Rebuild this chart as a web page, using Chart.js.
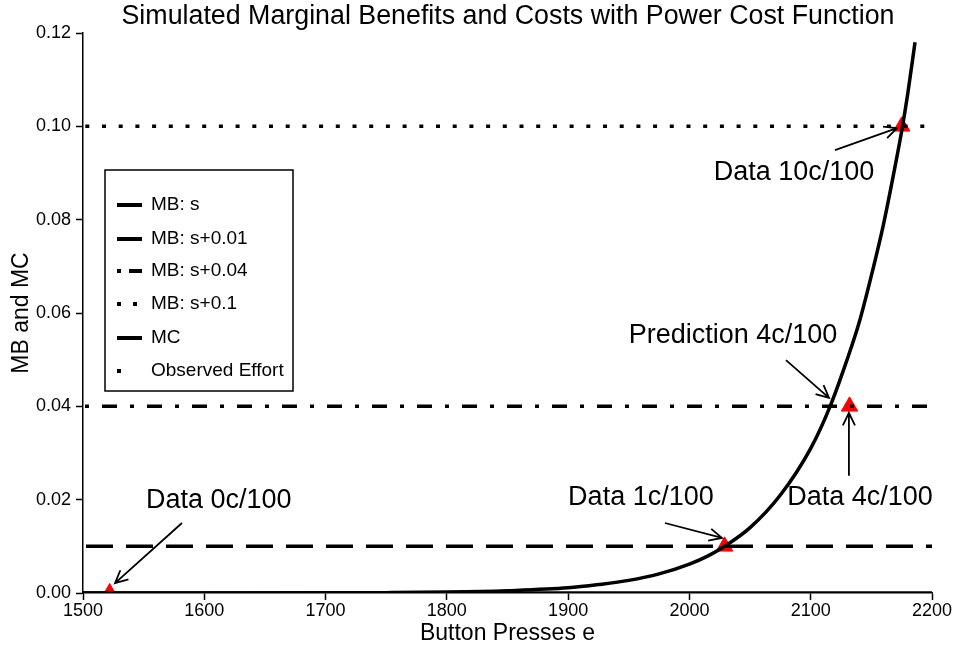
<!DOCTYPE html>
<html>
<head>
<meta charset="utf-8">
<script src="https://cdn.jsdelivr.net/npm/chart.js@4/dist/chart.umd.min.js"></script>
<style>
  html, body { margin: 0; padding: 0; background: #fff; }
  #wrap { width: 957px; height: 649px; position: relative; }
</style>
</head>
<body>
<div id="wrap"><canvas id="mbmc"></canvas></div>
<script>
// Button presses and marginal cost
const presses = [1500, 1600, 1700, 1750, 1800, 1850, 1900, 1925, 1950, 1975, 2000, 2015, 2029,
                 2050, 2075, 2100, 2116, 2130, 2140, 2150, 2160, 2170, 2175, 2180, 2186];
const marginalCost = [0, 0.0000, 0.00003, 0.00008, 0.0002, 0.0005, 0.0011, 0.0018, 0.0027, 0.0041,
                      0.0062, 0.0079, 0.0100, 0.0140, 0.0210, 0.0310, 0.0400, 0.0500, 0.0580,
                      0.0680, 0.0790, 0.0920, 0.0990, 0.1070, 0.1180];

// Marginal benefit levels (horizontal lines)
const benefitRange = [1500, 2200];
const benefitLevels = [0, 0.01, 0.04, 0.10];

// Observed effort per treatment
const observedEffort = [1522, 2029, 2132, 2175];
const observedBenefit = [0, 0.01, 0.04, 0.10];

const xTicks = [1500, 1600, 1700, 1800, 1900, 2000, 2100, 2200];
const yTicks = [0, 0.02, 0.04, 0.06, 0.08, 0.10, 0.12];

// Annotation labels and arrows (data units)
const notes = [
  { text: 'Data 0c/100',       x: 1612, y: 0.0199, from: [1581.6, 0.0150], to: [1526.4, 0.0021] },
  { text: 'Data 1c/100',       x: 1960, y: 0.0204, from: [1979.8, 0.0150], to: [2026.8, 0.0118] },
  { text: 'Data 4c/100',       x: 2140.6, y: 0.0204, from: [2131.5, 0.0251], to: [2131.5, 0.0386] },
  { text: 'Prediction 4c/100', x: 2035.9, y: 0.0551, from: [2079.6, 0.0499], to: [2115.1, 0.0418] },
  { text: 'Data 10c/100',      x: 2086.2, y: 0.0900, from: [2120.0, 0.0949], to: [2171.1, 0.0996] }
];

const FONT = '"Liberation Sans", Arial, Helvetica, sans-serif';

function hline(level) {
  return benefitRange.map(x => ({ x: x, y: level }));
}

const datasets = [
  { label: 'MB: s', data: hline(benefitLevels[0]), borderColor: '#000', borderWidth: 3.5, borderDash: [] },
  { label: 'MB: s+0.01', data: hline(benefitLevels[1]), borderColor: '#000', borderWidth: 3.5, borderDash: [27, 13], borderDashOffset: -3 },
  { label: 'MB: s+0.04', data: hline(benefitLevels[2]), borderColor: '#000', borderWidth: 3.5, borderDash: [15, 13, 4, 13], borderDashOffset: -19 },
  { label: 'MB: s+0.1', data: hline(benefitLevels[3]), borderColor: '#000', borderWidth: 3.5, borderDash: [4, 12.7], borderDashOffset: -19 },
  { label: 'MC', data: presses.map((e, i) => ({ x: e, y: marginalCost[i] })), borderColor: '#000', borderWidth: 3.5, cubicInterpolationMode: 'monotone' },
  { label: 'Observed Effort', data: observedEffort.map((e, i) => ({ x: e, y: observedBenefit[i] })),
    showLine: false, pointStyle: 'triangle', pointRadius: 9.5, backgroundColor: '#ff0000', borderColor: '#ff0000', borderWidth: 1 }
];
datasets.forEach(d => {
  if (d.showLine === undefined) { d.showLine = true; d.pointRadius = 0; d.borderCapStyle = 'butt'; }
});

function arrow(ctx, x1, y1, x2, y2) {
  const ang = Math.atan2(y2 - y1, x2 - x1);
  const len = 14, spread = Math.PI / 7;
  ctx.beginPath();
  ctx.moveTo(x1, y1);
  ctx.lineTo(x2, y2);
  ctx.moveTo(x2 - len * Math.cos(ang - spread), y2 - len * Math.sin(ang - spread));
  ctx.lineTo(x2, y2);
  ctx.lineTo(x2 - len * Math.cos(ang + spread), y2 - len * Math.sin(ang + spread));
  ctx.stroke();
}

const decorations = {
  id: 'decorations',
  afterDatasetsDraw(chart) {
    const ctx = chart.ctx, xs = chart.scales.x, ys = chart.scales.y;
    ctx.save();
    // title
    ctx.fillStyle = '#000';
    ctx.font = '26.8px ' + FONT;
    ctx.textAlign = 'center';
    ctx.textBaseline = 'middle';
    ctx.fillText('Simulated Marginal Benefits and Costs with Power Cost Function', 508, 17);

    // annotations
    ctx.font = '27px ' + FONT;
    ctx.strokeStyle = '#000';
    ctx.lineWidth = 1.8;
    notes.forEach(n => {
      ctx.fillText(n.text, xs.getPixelForValue(n.x), ys.getPixelForValue(n.y));
      arrow(ctx, xs.getPixelForValue(n.from[0]), ys.getPixelForValue(n.from[1]),
                 xs.getPixelForValue(n.to[0]), ys.getPixelForValue(n.to[1]));
    });

    // legend box
    const bx = 105, by = 170, bw = 188, bh = 221;
    ctx.fillStyle = '#fff';
    ctx.fillRect(bx, by, bw, bh);
    ctx.lineWidth = 1.5;
    ctx.strokeRect(bx, by, bw, bh);
    ctx.fillStyle = '#000';
    ctx.font = '19px ' + FONT;
    ctx.textAlign = 'left';
    const rows = [205, 239, 271, 304, 338, 371];
    const samples = [[[0, 25]], [[0, 25]], [[0, 4], [12, 25]], [[0, 4], [16, 20]], [[0, 25]], [[0, 4]]];
    datasets.forEach((d, i) => {
      const y = rows[i];
      ctx.lineWidth = 4;
      ctx.lineCap = 'butt';
      samples[i].forEach(seg => {
        ctx.beginPath();
        ctx.moveTo(117 + seg[0], y);
        ctx.lineTo(117 + seg[1], y);
        ctx.stroke();
      });
      ctx.fillText(d.label, 151, y);
    });
    ctx.restore();
  }
};

new Chart(document.getElementById('mbmc'), {
  type: 'scatter',
  data: { datasets: datasets },
  options: {
    responsive: true,
    maintainAspectRatio: false,
    animation: false,
    layout: { padding: { top: 33, right: 25, left: 0, bottom: 0 } },
    plugins: { legend: { display: false }, tooltip: { enabled: false } },
    scales: {
      x: {
        type: 'linear', min: 1500, max: 2200,
        afterFit: s => { s.height = 56; },
        afterBuildTicks: s => { s.ticks = xTicks.map(v => ({ value: v })); },
        grid: { drawOnChartArea: false, tickLength: 7, tickColor: '#000', tickWidth: 1.5 },
        border: { color: '#000', width: 1.5 },
        ticks: { color: '#000', font: { family: FONT, size: 18 }, padding: 0, maxRotation: 0, callback: v => String(v) },
        title: { display: true, text: 'Button Presses e', color: '#000', font: { family: FONT, size: 23 }, padding: { top: 0, bottom: 2 } }
      },
      y: {
        type: 'linear', min: 0, max: 0.12,
        afterFit: s => { s.width = 83; },
        afterBuildTicks: s => { s.ticks = yTicks.map(v => ({ value: v })); },
        grid: { drawOnChartArea: false, tickLength: 7, tickColor: '#000', tickWidth: 1.5 },
        border: { color: '#000', width: 1.5 },
        ticks: { color: '#000', font: { family: FONT, size: 18 }, padding: 5, callback: v => v.toFixed(2) },
        title: { display: true, text: 'MB and MC', color: '#000', font: { family: FONT, size: 23 }, padding: { top: 8, bottom: 0 } }
      }
    }
  },
  plugins: [decorations]
});
</script>
</body>
</html>
